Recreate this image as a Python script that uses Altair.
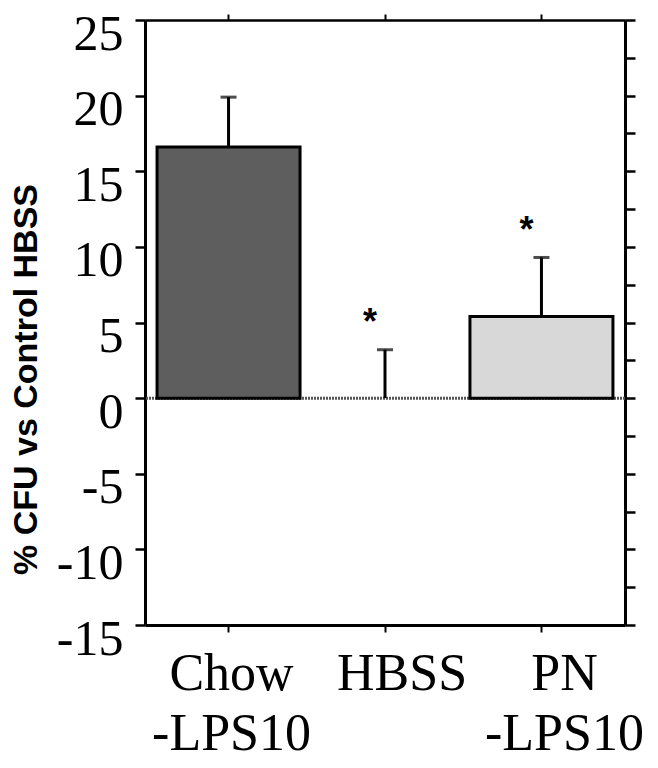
import altair as alt
import pandas as pd

categories = ["Chow -LPS10", "HBSS", "PN -LPS10"]
means = [16.6, 0.0, 5.4]
errors = [3.3, 3.2, 3.9]
bar_colors = ["#5e5e5e", "#ffffff", "#d8d8d8"]
star_groups = ["HBSS", "PN -LPS10"]
star_y = [5.6, 11.7]
zero_line = [0]
y_ticks = [-15, -10, -5, 0, 5, 10, 15, 20, 25]
right_ticks = [-15, -12.5, -10, -7.5, -5, -2.5, 0, 2.5, 5, 7.5, 10, 12.5, 15, 17.5, 20, 22.5, 25]

df = pd.DataFrame({
    "group": categories,
    "mean": means,
    "upper": [m + e for m, e in zip(means, errors)],
})
stars_df = pd.DataFrame({"group": star_groups, "y": star_y})
zero_df = pd.DataFrame({"y": zero_line})

xscale = alt.Scale(domain=categories, paddingInner=0.086, paddingOuter=0.077)
yscale = alt.Scale(domain=[-15, 25], nice=False, zero=False)

left_axis = alt.Axis(
    orient="left", values=y_ticks, grid=False,
    tickSize=10, tickWidth=2.5, tickColor="black",
    domainWidth=3, domainColor="black",
    labelFont="Liberation Serif", labelFontSize=50, labelColor="black",
    labelExpr="'' + datum.value",
    labelPadding=12, labelOffset=14,
    title="% CFU vs Control HBSS", titleFont="Liberation Sans",
    titleFontWeight="bold", titleFontSize=34, titleColor="black",
    titleAngle=270, titleX=-119, titleY=359,
    titleAlign="center", titleBaseline="middle",
)
bottom_axis = alt.Axis(
    orient="bottom", title=None, grid=False, labelAngle=0,
    tickSize=7, tickWidth=2, tickColor="black",
    domainWidth=3, domainColor="black",
    labelFont="Liberation Serif", labelFontSize=52, labelColor="black",
    labelExpr="split(datum.label, ' ')", labelLineHeight=60,
    labelPadding=16, labelBaseline="top",
    labelOffset={"expr": "datum.value == 'HBSS' ? 17 : (datum.value == 'PN -LPS10' ? 23 : 3)"},
)
right_axis = alt.Axis(
    orient="right", values=right_ticks, grid=False, labels=False, title=None,
    tickSize=10, tickWidth=2.5, tickColor="black",
    domainWidth=3, domainColor="black",
)
top_axis = alt.Axis(
    orient="top", grid=False, labels=False, title=None,
    tickSize=6, tickWidth=2, tickColor="black",
    domainWidth=2.5, domainColor="black",
)

zero = alt.Chart(zero_df).mark_rule(
    color="#555555", strokeDash=[2, 1], strokeWidth=3
).encode(y=alt.Y("y:Q", scale=yscale, axis=None))

bars = alt.Chart(df).transform_filter("datum.mean != 0").mark_bar(
    stroke="black", strokeWidth=3
).encode(
    x=alt.X("group:N", scale=xscale, axis=bottom_axis, sort=categories),
    y=alt.Y("mean:Q", scale=yscale, axis=left_axis),
    y2=alt.Y2(datum=0),
    color=alt.Color("group:N", scale=alt.Scale(domain=categories, range=bar_colors), legend=None),
)

err = alt.Chart(df).mark_rule(color="black", strokeWidth=3).encode(
    x=alt.X("group:N", scale=xscale, axis=top_axis, sort=categories),
    y=alt.Y("mean:Q", scale=yscale, axis=right_axis),
    y2="upper:Q",
)

caps = alt.Chart(df).mark_tick(color="black", size=16, thickness=3).encode(
    x=alt.X("group:N", scale=xscale, axis=None, sort=categories),
    y=alt.Y("upper:Q", scale=yscale, axis=None),
)

stars = alt.Chart(stars_df).mark_text(
    text="*", font="Liberation Sans", fontWeight="bold", fontSize=36,
    color="black", dx=-15, dy=21, baseline="alphabetic", align="center"
).encode(
    x=alt.X("group:N", scale=xscale, axis=None, sort=categories),
    y=alt.Y("y:Q", scale=yscale, axis=None),
)

chart = alt.layer(zero, bars, err, caps, stars).resolve_axis(
    x="independent", y="independent"
).properties(
    width=480, height=605,
    padding={"left": 137, "top": 12, "right": 20, "bottom": 135},
    autosize=alt.AutoSizeParams(type="none"),
).configure_view(stroke=None)

chart.save("out.html", embed_options={"renderer": "svg", "actions": False})
